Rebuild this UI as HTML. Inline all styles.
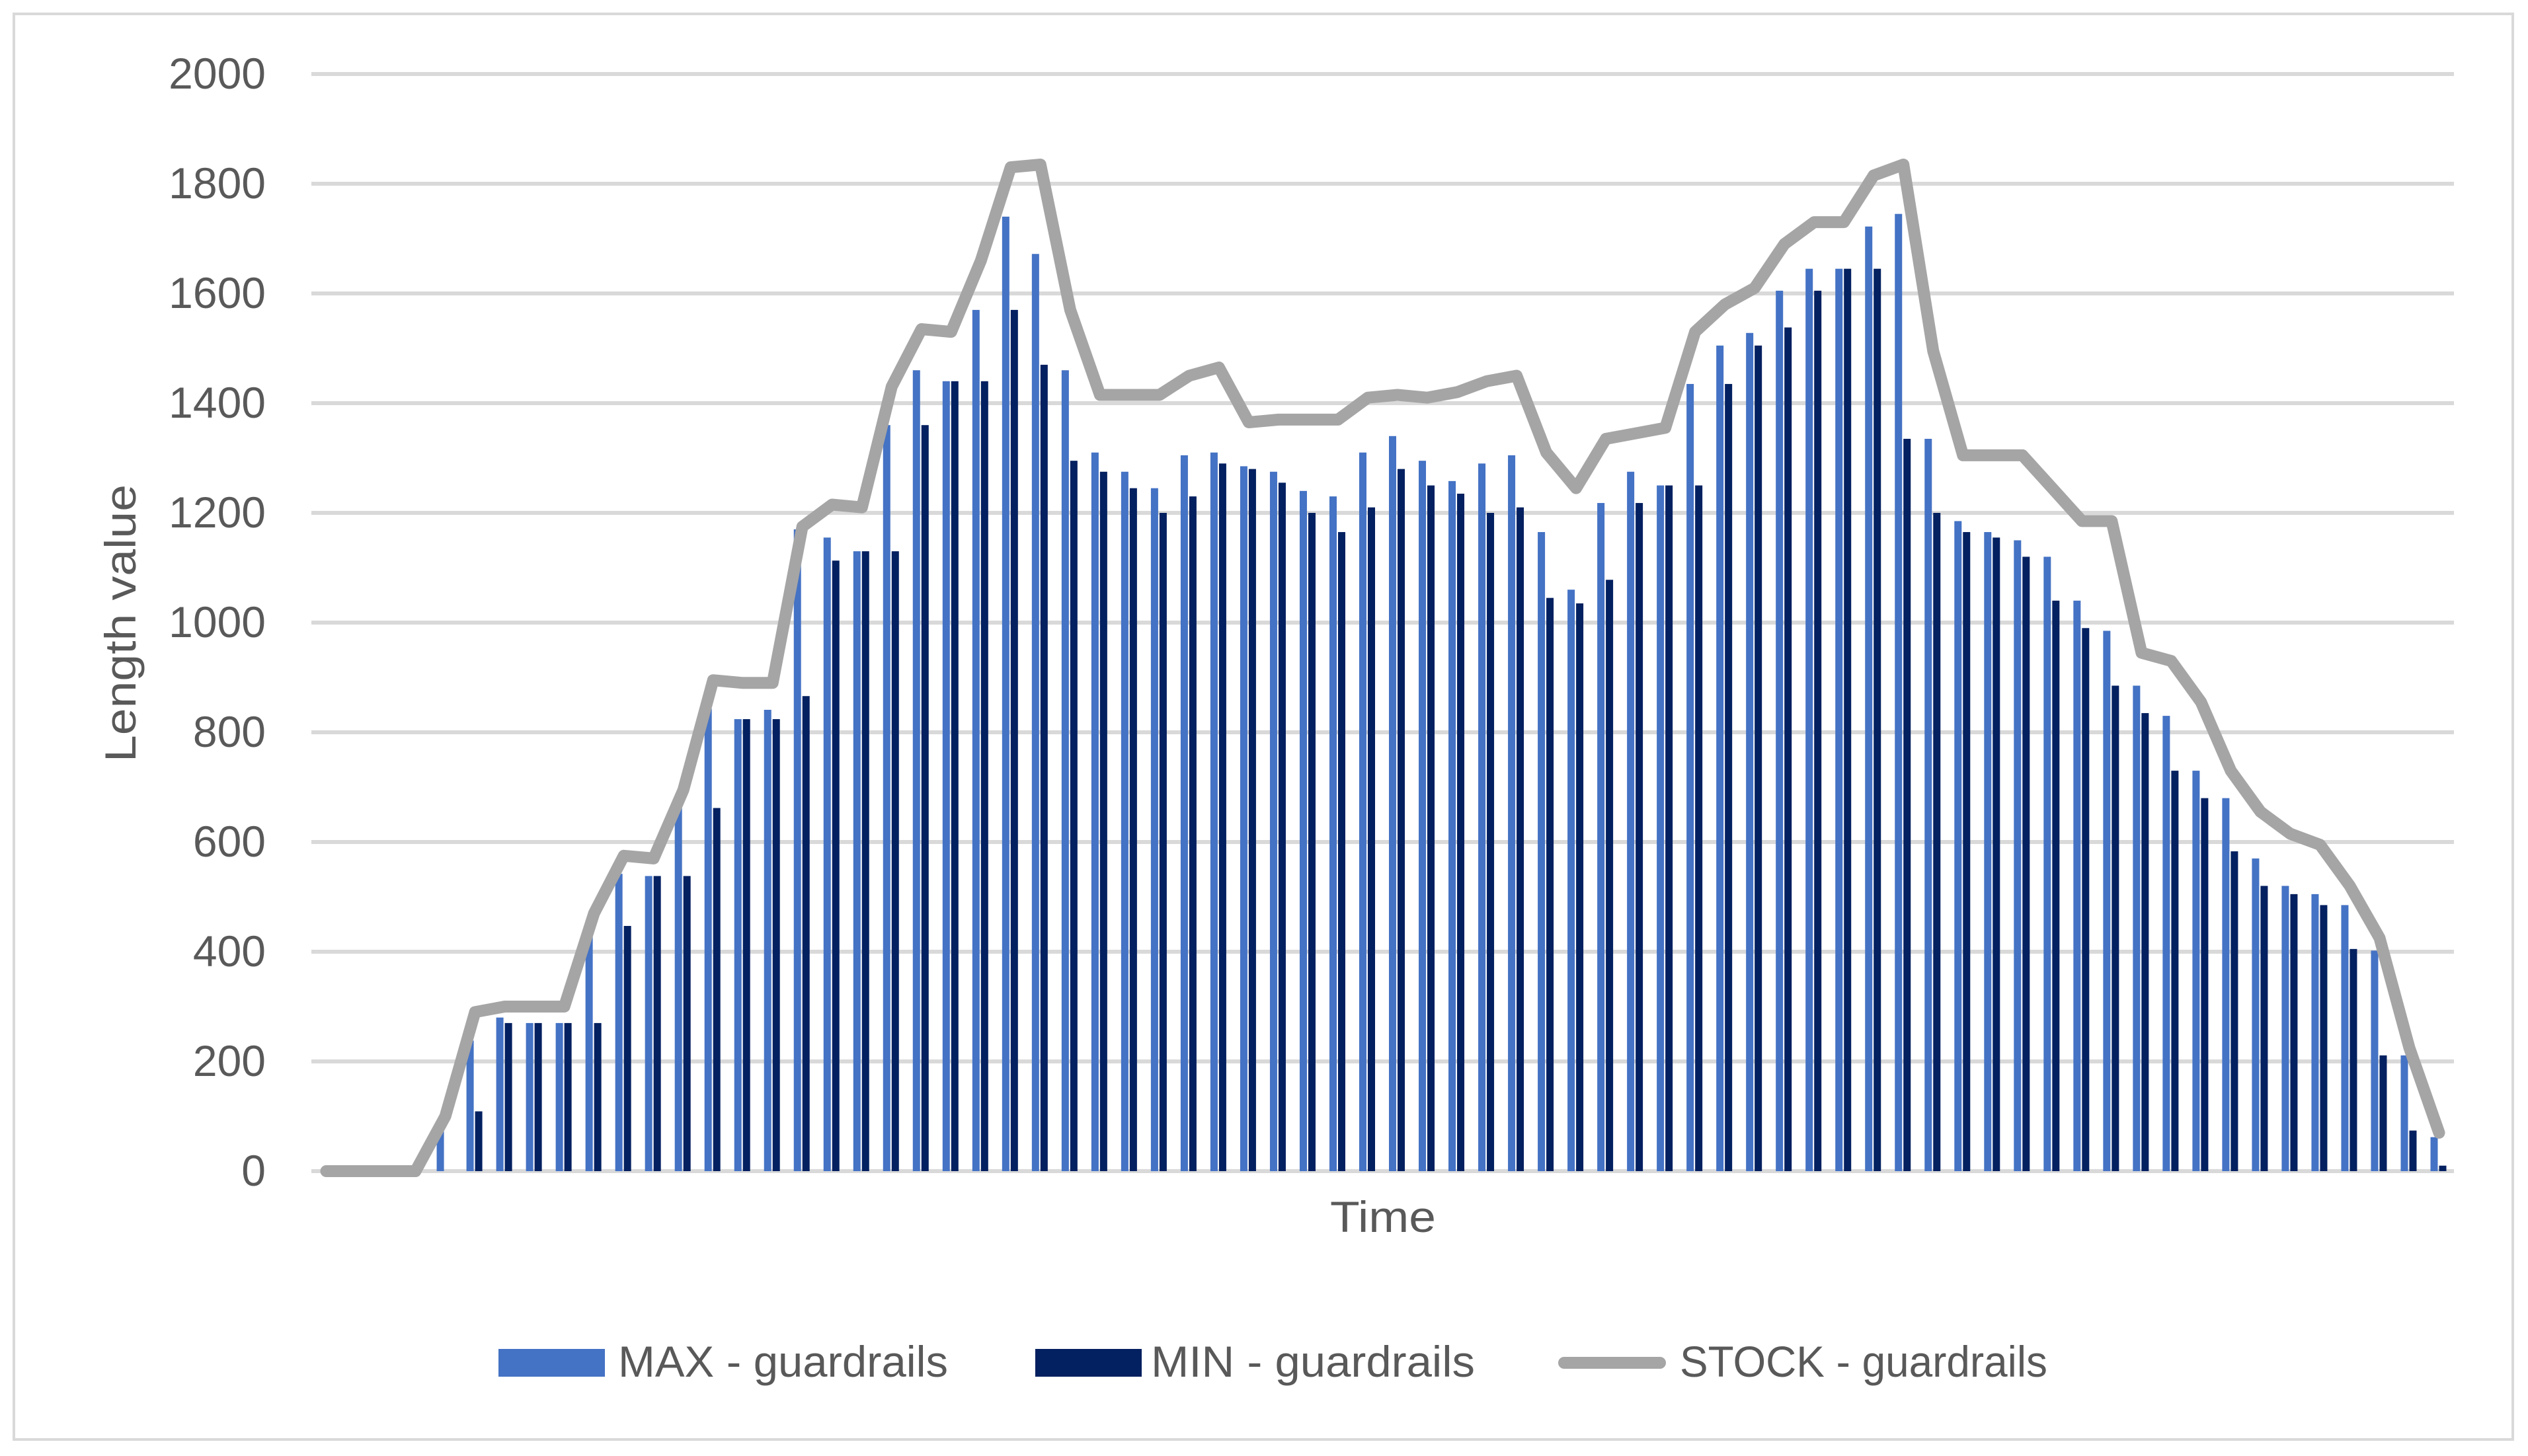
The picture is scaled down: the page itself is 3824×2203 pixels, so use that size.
<!DOCTYPE html>
<html><head><meta charset="utf-8"><style>
html,body{margin:0;padding:0;background:#fff;}
svg{display:block;}
text{font-family:"Liberation Sans",sans-serif;fill:#595959;}
</style></head><body>
<svg id="chart" width="3824" height="2203" viewBox="0 0 3824 2203" xmlns="http://www.w3.org/2000/svg">
<rect x="21" y="21" width="3780" height="2157" fill="#fff" stroke="#D9D9D9" stroke-width="4"/>
<g id="grid"></g>
<g id="yticks"></g>
<g id="bars"></g>
<g id="line"></g>
<text transform="translate(205,943) rotate(-90)" text-anchor="middle" font-size="66" textLength="420" lengthAdjust="spacingAndGlyphs">Length value</text>
<text x="2092" y="1864" text-anchor="middle" font-size="66" textLength="160" lengthAdjust="spacingAndGlyphs">Time</text>
<g>
<rect x="754" y="2041" width="161" height="42" fill="#4472C4"/>
<text x="935" y="2083" font-size="66" textLength="499" lengthAdjust="spacingAndGlyphs">MAX - guardrails</text>
<rect x="1566" y="2041" width="161" height="42" fill="#032060"/>
<text x="1741" y="2083" font-size="66" textLength="490" lengthAdjust="spacingAndGlyphs">MIN - guardrails</text>
<line x1="2366" y1="2062" x2="2511" y2="2062" stroke="#A5A5A5" stroke-width="18" stroke-linecap="round"/>
<text x="2541" y="2083" font-size="66" textLength="556" lengthAdjust="spacingAndGlyphs">STOCK - guardrails</text>
</g>
</svg>
<script>
const maxValues = [0,0,0,0,90,238,280,270,270,430,542,538,680,843,824,841,1170,1155,1130,1360,1460,1440,1570,1740,1672,1460,1310,1275,1245,1305,1310,1285,1275,1240,1230,1310,1340,1295,1258,1290,1305,1165,1060,1218,1275,1250,1435,1505,1528,1605,1645,1645,1722,1745,1335,1185,1165,1150,1120,1040,985,885,830,730,680,570,520,505,485,402,211,62];
const minValues = [0,0,0,0,0,109,270,270,270,270,447,538,538,662,824,824,866,1113,1130,1130,1360,1440,1440,1570,1470,1295,1275,1245,1200,1230,1290,1280,1255,1200,1165,1210,1280,1250,1235,1200,1210,1045,1035,1078,1218,1250,1250,1435,1505,1538,1605,1645,1645,1335,1200,1165,1155,1120,1040,990,885,835,730,680,583,520,505,485,405,211,74,10];
const stockValues = [0,0,0,0,100,290,300,300,300,470,575,570,695,895,890,890,1175,1215,1210,1430,1535,1530,1660,1830,1835,1570,1415,1415,1415,1450,1465,1365,1370,1370,1370,1410,1415,1410,1420,1440,1450,1310,1245,1335,1345,1355,1530,1580,1610,1690,1730,1730,1815,1835,1495,1305,1305,1305,1245,1185,1185,945,930,855,730,655,615,595,520,425,225,70];
const yTicks = [0,200,400,600,800,1000,1200,1400,1600,1800,2000];

const NS = "http://www.w3.org/2000/svg";
const plotL = 471, plotR = 3712, yBase = 1772, yTop = 112, yMaxV = 2000;
const n = maxValues.length;
const step = (plotR - plotL) / n;
function xC(i){ return plotL + step * (i + 0.5); }
function yS(v){ return yBase - (v / yMaxV) * (yBase - yTop); }
function mk(tag, attrs, parent){ const e = document.createElementNS(NS, tag); for (const k in attrs) e.setAttribute(k, attrs[k]); parent.appendChild(e); return e; }

const grid = document.getElementById('grid');
const yt = document.getElementById('yticks');
yTicks.forEach(t => {
  const gl = mk('line', {x1: plotL, x2: plotR, y1: yS(t), y2: yS(t), stroke: '#D9D9D9', 'stroke-width': 6}, grid);
  
  
  const tx = mk('text', {x: 402, y: yS(t) + 22, 'text-anchor': 'end', 'font-size': 66}, yt);
  tx.textContent = t;
  
  
});

const bars = document.getElementById('bars');
for (let i = 0; i < n; i++) {
  const c = xC(i);
  if (maxValues[i] > 0) {
    const b = mk('rect', {x: c - 13, y: yS(maxValues[i]), width: 11, height: yBase - yS(maxValues[i]), fill: '#4472C4'}, bars);
    
    
  }
  if (minValues[i] > 0) {
    const b2 = mk('rect', {x: c, y: yS(minValues[i]), width: 11, height: yBase - yS(minValues[i]), fill: '#032060'}, bars);
    
    
  }
}

const lineG = document.getElementById('line');
const pts = stockValues.map((v, i) => xC(i).toFixed(1) + ',' + yS(v).toFixed(1)).join(' ');
const pl = mk('polyline', {points: pts, fill: 'none', stroke: '#A5A5A5', 'stroke-width': 18, 'stroke-linejoin': 'round', 'stroke-linecap': 'round'}, lineG);


</script>
</body></html>
